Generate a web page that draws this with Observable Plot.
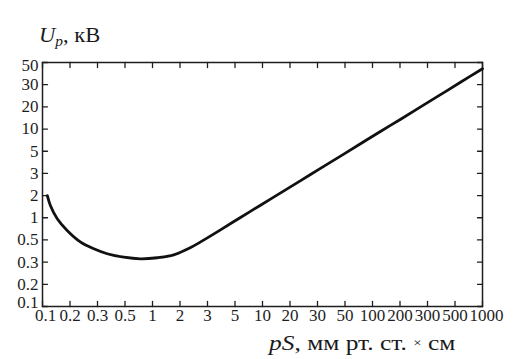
<!DOCTYPE html>
<html>
<head>
<meta charset="utf-8">
<script src="https://cdn.jsdelivr.net/npm/d3@7"></script>
<script src="https://cdn.jsdelivr.net/npm/@observablehq/plot@0.6"></script>
<style>
  html, body { margin: 0; padding: 0; background: #fff; }
  #wrap { position: relative; width: 532px; height: 359px; overflow: hidden; }
  .lbl { position: absolute; font-family: "Liberation Serif", serif; font-size: 20.5px; line-height: 1; color: #1a1a1a; white-space: nowrap; transform-origin: 0 0; }
  .lbl sub { font-size: 14px; vertical-align: -4px; }
  .small { font-size: 12px; position: relative; top: -3px; }
</style>
</head>
<body>
<div id="wrap">
  <div class="lbl" id="ytitle" style="left:39px; top:25px; transform: scaleX(1.1);"><i>U</i><sub><i>p</i></sub>, кВ</div>
  <div class="lbl" id="xtitle" style="left:269px; top:333px; transform: scaleX(1.24);"><i>pS</i>, мм рт. ст. <span class="small">×</span> см</div>
</div>
<script>
// Tick values (axes are drawn with equally spaced tick labels)
const xTicks = [0.1, 0.2, 0.3, 0.5, 1, 2, 3, 5, 10, 20, 30, 50, 100, 200, 300, 500, 1000];
const yTicks = [0.1, 0.2, 0.3, 0.5, 1, 2, 3, 5, 10, 20, 30, 50];

// Paschen curve: pS (mm Hg × cm) vs breakdown voltage Up (kV)
const psValues = [0.113, 0.122, 0.145, 0.186, 0.234, 0.284, 0.359, 0.489, 0.739, 1.13, 1.71, 2.34, 2.71, 3.82, 5.74, 9.51, 15.8, 23.4, 31.7, 46.0, 73.9, 122, 202, 271, 382, 574, 1000];
const upValues = [2.0, 1.47, 0.969, 0.672, 0.475, 0.408, 0.364, 0.336, 0.324, 0.332, 0.355, 0.42, 0.478, 0.685, 1.01, 1.48, 2.10, 2.63, 3.37, 4.47, 6.31, 9.27, 13.6, 20.0, 25.0, 31.7, 43.3];

const data = psValues.map((v, i) => ({ps: v, up: upValues[i]}));

const W = 532, H = 359, mL = 42, mR = 50, mT = 62, mB = 53;
const xRange = xTicks.map((_, i) => mL + i * (W - mL - mR) / (xTicks.length - 1));
const yRange = yTicks.map((_, i) => (H - mB) - i * (H - mB - mT) / (yTicks.length - 1));
const fmt = d => String(d);
const ink = "#1e1e1e";
const font = '"Liberation Serif", serif';
const first = (d, i) => i === 0;
const last = (d, i, arr) => i === arr.length - 1;
const inner = (d, i, arr) => i > 0 && i < arr.length - 1;

// inward tick shape (a plain stroke along the vector)
const stub = {draw(context, l) { context.moveTo(0, 0); context.lineTo(0, -l); }};
const tickOpts = {length: 5, anchor: "start", shape: stub, stroke: ink, strokeWidth: 1.3};
const xLab = {x: d => d, text: fmt, frameAnchor: "bottom", dy: 14, fontSize: 17, fill: ink, fontFamily: font};
const yLab = {y: d => d, text: fmt, frameAnchor: "left", textAnchor: "end", dx: -4, fontSize: 17, fill: ink, fontFamily: font};

const chart = Plot.plot({
  width: W, height: H,
  marginLeft: mL, marginRight: mR, marginTop: mT, marginBottom: mB,
  style: {fontFamily: font, fontSize: "17px", color: ink, background: "transparent"},
  x: {type: "log", domain: xTicks, range: xRange, axis: null},
  y: {type: "log", domain: yTicks, range: yRange, axis: null},
  marks: [
    Plot.vector(xTicks, {...tickOpts, x: d => d, frameAnchor: "bottom", rotate: 0}),
    Plot.vector(xTicks, {...tickOpts, x: d => d, frameAnchor: "top", rotate: 180}),
    Plot.vector(yTicks, {...tickOpts, y: d => d, frameAnchor: "left", rotate: 90}),
    Plot.vector(yTicks, {...tickOpts, y: d => d, frameAnchor: "right", rotate: 270}),
    Plot.frame({stroke: ink, strokeWidth: 1.5}),
    Plot.text(xTicks.filter(inner), xLab),
    Plot.text(xTicks.filter(first), {...xLab, dx: 3}),
    Plot.text(xTicks.filter(last), {...xLab, dx: 4}),
    Plot.text(yTicks.filter(inner), yLab),
    Plot.text(yTicks.filter(first), {...yLab, dy: -4}),
    Plot.text(yTicks.filter(last), {...yLab, dy: 3}),
    Plot.line(data, {x: "ps", y: "up", curve: "catmull-rom", stroke: "#111", strokeWidth: 2.8})
  ]
});
chart.style.position = "absolute";
chart.style.left = "0px";
chart.style.top = "0px";
document.getElementById("wrap").prepend(chart);
</script>
</body>
</html>
